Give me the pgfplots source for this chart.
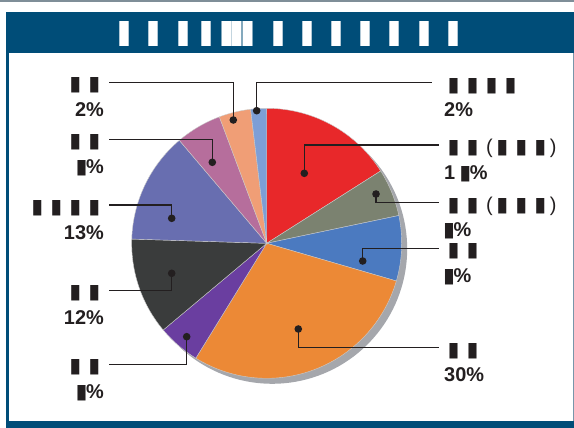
\documentclass[border=0pt]{standalone}
\usepackage{pgfplots}
\pgfplotsset{compat=1.18}
\usepackage{pgfplotstable}
\usepackage{graphicx}
\usepackage{fontspec}
\setmainfont{Liberation Sans}
\newfontfamily\sym{DejaVu Sans}

\definecolor{tblue}{RGB}{0,77,120}
\definecolor{topgray}{RGB}{127,142,152}
\definecolor{rgray}{RGB}{120,150,170}
\definecolor{pRed}{RGB}{232,40,42}
\definecolor{pOlive}{RGB}{123,130,112}
\definecolor{pBlue}{RGB}{75,122,192}
\definecolor{pOrange}{RGB}{236,137,54}
\definecolor{pPurple}{RGB}{106,62,160}
\definecolor{pDark}{RGB}{58,60,60}
\definecolor{pSlate}{RGB}{104,110,176}
\definecolor{pMauve}{RGB}{182,110,156}
\definecolor{pPeach}{RGB}{240,158,118}
\definecolor{pLBlue}{RGB}{125,158,214}
\definecolor{shadowc}{RGB}{165,167,172}
\definecolor{lead}{RGB}{35,31,32}

% slice values (percent), clockwise from 12 o'clock
\pgfplotstableread{
val col
16.0 pRed
5.7 pOlive
7.8 pBlue
29.3 pOrange
5.1 pPurple
11.6 pDark
13.3 pSlate
5.5 pMauve
3.8 pPeach
1.9 pLBlue
}\piedata

\newcommand\bx{\resizebox{12bp}{13bp}{\sym ▮}}
\newcommand\cell{\makebox[19bp]{\bx}}
\newcommand\pb{\makebox[11bp][r]{\bx}\hspace{-1.5bp}}
\newcommand\tbx[2]{\rlap{\hspace{\dimexpr#1bp-#2bp/2\relax}\resizebox{\dimexpr#2bp*2\relax}{21bp}{\sym ▮}}}
\newcommand\lf{\bfseries\fontsize{20}{23}\selectfont}

\begin{document}
\begin{tikzpicture}
\gdef\pieplots{}
\gdef\acc{90}
\foreach \i in {0,...,9}{%
  \pgfplotstablegetelem{\i}{val}\of\piedata \let\sv\pgfplotsretval
  \pgfplotstablegetelem{\i}{col}\of\piedata \let\sc\pgfplotsretval
  \pgfmathsetmacro\se{\acc-3.6*\sv}%
  \xdef\pieplots{\unexpanded\expandafter{\pieplots}\noexpand\addplot[fill=\sc,draw=white!60!gray,line width=0.4bp,domain=\se:\acc,samples=60] ({266.7+135*cos(x)},{243.3-135*sin(x)}) -- (axis cs:266.7,243.3) -- cycle;}%
  \global\let\acc\se
}
\begin{axis}[scale only axis, width=574bp, height=428bp,
  xmin=0, xmax=574, ymin=0, ymax=428, y dir=reverse,
  hide axis, clip=false]
\path (axis cs:0,0) rectangle (axis cs:574,428);
% frame
\fill[topgray] (axis cs:0,0) rectangle (axis cs:574,2.2);
\fill[tblue] (axis cs:6,12) rectangle (axis cs:574,53);
\fill[tblue] (axis cs:6,12) rectangle (axis cs:8.6,428);
\fill[rgray] (axis cs:572.6,53) rectangle (axis cs:574,421);
\fill[tblue] (axis cs:6,421) rectangle (axis cs:574,428);
% title
\node[anchor=base west, inner sep=0, text=white] at (axis cs:120,42.7)
 {\tbx{0}{7}\tbx{29.3}{7}\tbx{59}{7}\tbx{82.7}{7}\tbx{102.7}{7.5}\tbx{113}{7.5}\tbx{124}{7.5}\tbx{154.3}{7}\tbx{183.3}{7}\tbx{212.3}{7}\tbx{241.7}{7}\tbx{270.7}{7}\tbx{300}{7}\tbx{329.3}{7}};
% shadow and pie
\addplot[fill=shadowc, draw=none, domain=0:360, samples=150] ({272.2+135*cos(x)},{248.8-135*sin(x)}) -- cycle;
\pieplots
% leaders
\pgfplotsset{leader/.style={lead, line width=1.5bp, mark=*, mark size=3bp, mark indices={1}, mark options={solid, fill=lead, draw=lead}}}
\addplot[leader] coordinates {(256.7,110.7) (256.7,82.7) (432,82.7)};
\addplot[leader] coordinates {(304.3,173.3) (304.3,145) (439,145)};
\addplot[leader] coordinates {(376,194) (376,202.7) (439,202.7)};
\addplot[leader] coordinates {(362.7,261) (362.7,248.3) (439,248.3)};
\addplot[leader] coordinates {(298.3,329) (298.3,347.7) (439,347.7)};
\addplot[leader] coordinates {(233.3,120) (233.3,82.7) (109,82.7)};
\addplot[leader] coordinates {(212.3,162.3) (212.3,139.3) (109,139.3)};
\addplot[leader] coordinates {(171.7,218.3) (171.7,205) (109,205)};
\addplot[leader] coordinates {(171.7,273.3) (171.7,290.7) (109,290.7)};
\addplot[leader] coordinates {(186.7,336.7) (186.7,364.3) (109,364.3)};
% left labels
\tikzset{L/.style={anchor=base east, inner sep=0, font=\lf, text=lead}, R/.style={anchor=base west, inner sep=0, font=\lf, text=lead}}
\node[L] at (axis cs:104,90.7) {\cell\cell};
\node[L] at (axis cs:104,116.7) {2\%};
\node[L] at (axis cs:104,147.3) {\cell\cell};
\node[L] at (axis cs:104,173.3) {\pb\%};
\node[L] at (axis cs:104,213) {\cell\cell\cell\cell};
\node[L] at (axis cs:104,239) {13\%};
\node[L] at (axis cs:104,298.7) {\cell\cell};
\node[L] at (axis cs:104,324.7) {12\%};
\node[L] at (axis cs:104,372.3) {\cell\cell};
\node[L] at (axis cs:104,398.3) {\pb\%};
% right labels
\node[R] at (axis cs:444,91.2) {\cell\cell\cell\cell};
\node[R] at (axis cs:444,116.7) {2\%};
\node[R] at (axis cs:444,153.5) {\cell\cell\hspace{4bp}{\mdseries(}\cell\cell\cell{\mdseries)}};
\node[R] at (axis cs:444,179) {1\hspace{5bp}\pb\%};
\node[R] at (axis cs:444,211.2) {\cell\cell\hspace{4bp}{\mdseries(}\cell\cell\cell{\mdseries)}};
\node[R] at (axis cs:444,236.7) {\pb\%};
\node[R] at (axis cs:444,256.8) {\cell\cell};
\node[R] at (axis cs:444,282.3) {\pb\%};
\node[R] at (axis cs:444,356.2) {\cell\cell};
\node[R] at (axis cs:444,381.7) {30\%};
\end{axis}
\end{tikzpicture}
\end{document}
